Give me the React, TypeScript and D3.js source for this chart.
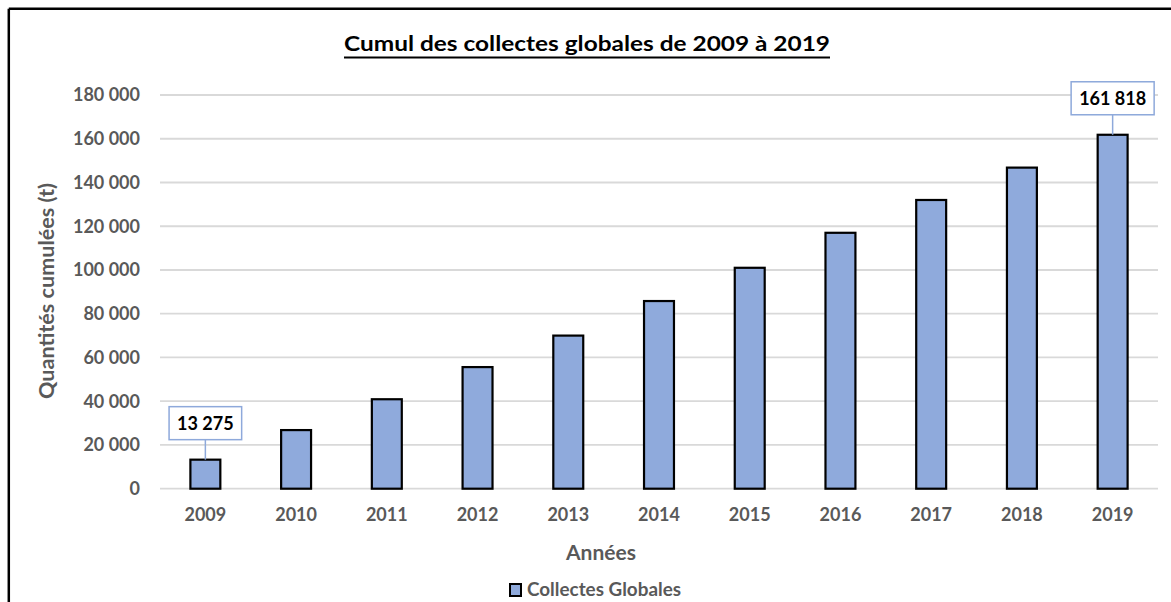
import React from "react";
import * as d3 from "d3";

const years = ["2009", "2010", "2011", "2012", "2013", "2014", "2015", "2016", "2017", "2018", "2019"];
const values = [13275, 26800, 40900, 55600, 70000, 85800, 101000, 117000, 132000, 146800, 161818];
const labelledYears = ["2009", "2019"];
const yTicks = [0, 20000, 40000, 60000, 80000, 100000, 120000, 140000, 160000, 180000];

const W = 1171;
const H = 602;
const FONT = "Lato, 'Open Sans', sans-serif";
const GREY = "#595959";
const BAR = "#8FAADC";
const LABEL_BORDER = "#8EA9DB";

const fmt = d3.formatLocale({ decimal: ",", thousands: " ", grouping: [3], currency: ["", " €"] }).format(",d");

function measure(text: string, font: string): number {
  if (typeof document === "undefined") return text.length * 9;
  const c = document.createElement("canvas");
  const ctx = c.getContext("2d");
  if (!ctx) return text.length * 9;
  ctx.font = font;
  return ctx.measureText(text).width;
}

export default function App() {
  const x = d3.scaleBand<string>().domain(years).range([160, 1158]).paddingInner(0.67).paddingOuter(0.335);
  const y = d3.scaleLinear().domain([0, 180000]).range([488.7, 95]);

  const labelFont = `bold 18px ${FONT}`;

  return (
    <svg width={W} height={H} style={{ position: "absolute", left: 0, top: 0, background: "#fff" }}>
      <rect x={0} y={0} width={W} height={H} fill="#fff" />
      {/* frame */}
      <line x1={8.8} y1={8.8} x2={W + 5} y2={8.8} stroke="#000" strokeWidth={2.5} />
      <line x1={8.8} y1={8.8} x2={8.8} y2={H + 5} stroke="#000" strokeWidth={2.5} />

      {/* title */}
      <text x={587} y={51} textAnchor="middle" fontFamily={FONT} fontWeight="bold" fontSize={21} fill="#000" textLength={486} lengthAdjust="spacingAndGlyphs">
        Cumul des collectes globales de 2009 à 2019
      </text>
      <line x1={344} x2={830} y1={57.5} y2={57.5} stroke="#000" strokeWidth={2} />

      {/* gridlines + y ticks */}
      {yTicks.map((t) => (
        <g key={t}>
          <line x1={160} x2={1158} y1={y(t)} y2={y(t)} stroke="#D9D9D9" strokeWidth={1.8} />
          <text x={140} y={y(t)} dy="0.36em" textAnchor="end" fontFamily={FONT} fontWeight="bold" fontSize={18} fill={GREY}>
            {fmt(t)}
          </text>
        </g>
      ))}

      {/* bars */}
      {years.map((yr, i) => (
        <rect key={yr} x={x(yr)!} y={y(values[i])} width={x.bandwidth()} height={y(0) - y(values[i])} fill={BAR} stroke="#000" strokeWidth={2.2} />
      ))}

      {/* x tick labels */}
      {years.map((yr) => (
        <text key={yr} x={x(yr)! + x.bandwidth() / 2} y={515} dy="0.36em" textAnchor="middle" fontFamily={FONT} fontWeight="bold" fontSize={18} fill={GREY}>
          {yr}
        </text>
      ))}

      {/* data labels */}
      {years.map((yr, i) => {
        if (!labelledYears.includes(yr)) return null;
        const txt = fmt(values[i]);
        const tw = measure(txt, labelFont);
        const bw = tw + 16;
        const bh = 33;
        const cx = x(yr)! + x.bandwidth() / 2;
        const top = y(values[i]);
        const boxBottom = top - 20;
        return (
          <g key={"lab" + yr}>
            <line x1={cx} x2={cx} y1={boxBottom} y2={top} stroke={LABEL_BORDER} strokeWidth={1.5} />
            <rect x={cx - bw / 2} y={boxBottom - bh} width={bw} height={bh} fill="#fff" stroke={LABEL_BORDER} strokeWidth={1.5} />
            <text x={cx} y={boxBottom - bh / 2} dy="0.36em" textAnchor="middle" fontFamily={FONT} fontWeight="bold" fontSize={18} fill="#000">
              {txt}
            </text>
          </g>
        );
      })}

      {/* axis titles */}
      <text transform={`translate(47,291) rotate(-90)`} textAnchor="middle" dy="0.36em" fontFamily={FONT} fontWeight="bold" fontSize={20} fill={GREY} textLength={216} lengthAdjust="spacingAndGlyphs">
        Quantités cumulées (t)
      </text>
      <text x={601} y={552} dy="0.36em" textAnchor="middle" fontFamily={FONT} fontWeight="bold" fontSize={21} fill={GREY}>
        Années
      </text>

      {/* legend */}
      <rect x={510} y={584} width={11} height={12} fill={BAR} stroke="#000" strokeWidth={2} />
      <text x={527} y={590} dy="0.36em" fontFamily={FONT} fontWeight="bold" fontSize={18} fill={GREY} textLength={154} lengthAdjust="spacingAndGlyphs">
        Collectes Globales
      </text>
    </svg>
  );
}
